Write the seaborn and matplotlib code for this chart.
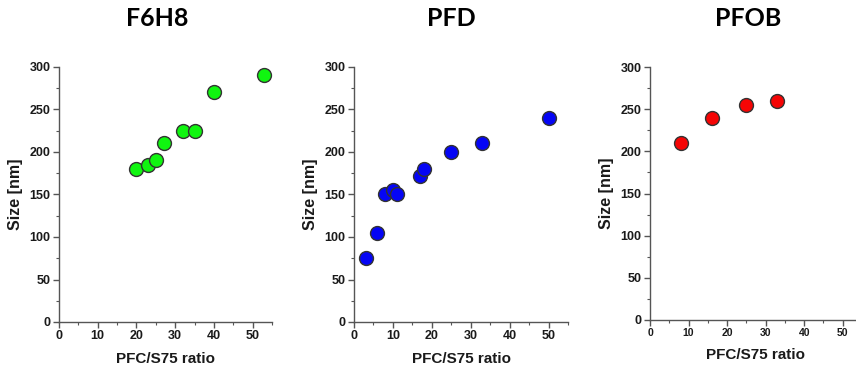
import matplotlib
matplotlib.use("Agg")

import matplotlib.pyplot as plt
import seaborn as sns
import pandas as pd
from matplotlib.ticker import MultipleLocator

# data
f6h8_ratio = [20, 23, 25, 27, 32, 35, 40, 53]
f6h8_size = [180, 185, 190, 210, 225, 225, 270, 290]

pfd_ratio = [3, 6, 8, 10, 11, 17, 18, 25, 33, 50]
pfd_size = [75, 105, 150, 155, 150, 172, 180, 200, 210, 240]

pfob_ratio = [8, 16, 25, 33]
pfob_size = [210, 240, 255, 260]

titles = ["F6H8", "PFD", "PFOB"]
colors = ["#10f510", "#0505f5", "#f50505"]

sns.set_style("ticks")
plt.rcParams["font.family"] = ["Liberation Sans", "DejaVu Sans"]
plt.rcParams["font.weight"] = "bold"
plt.rcParams["text.color"] = "#1a1a1a"
plt.rcParams["axes.labelcolor"] = "#1a1a1a"
plt.rcParams["xtick.labelcolor"] = "#1a1a1a"
plt.rcParams["ytick.labelcolor"] = "#1a1a1a"

fig = plt.figure(figsize=(8.56, 3.67), dpi=100)

# axes boxes in pixels: left, top, right, bottom
boxes = [(59, 67, 272, 322), (354, 67, 568, 322), (650, 67, 862, 320)]
title_x = [157, 451, 748]
W, H = 856, 367

datasets = [(f6h8_ratio, f6h8_size), (pfd_ratio, pfd_size), (pfob_ratio, pfob_size)]

for i, ((xs, ys), (l, t, r, b)) in enumerate(zip(datasets, boxes)):
    ax = fig.add_axes([l / W, 1 - b / H, (r - l) / W, (b - t) / H])
    df = pd.DataFrame({"ratio": xs, "size": ys})
    sns.scatterplot(data=df, x="ratio", y="size", ax=ax, color=colors[i],
                    s=100, edgecolor="#333333", linewidth=1, zorder=3)
    ax.set_xlim(0, 55)
    ax.set_ylim(0, 300)
    ax.xaxis.set_major_locator(MultipleLocator(10))
    ax.xaxis.set_minor_locator(MultipleLocator(5))
    ax.yaxis.set_major_locator(MultipleLocator(50))
    ax.yaxis.set_minor_locator(MultipleLocator(25))
    sns.despine(ax=ax)
    for sp in ["left", "bottom"]:
        ax.spines[sp].set_color("#555555")
        ax.spines[sp].set_linewidth(1)
    ax.tick_params(which="major", length=4, width=1, color="#555555", pad=2)
    ax.tick_params(which="minor", length=2.5, width=0.8, color="#555555")
    xsize = 7.5 if i == 2 else 9
    ax.tick_params(axis="x", labelsize=xsize)
    ax.tick_params(axis="y", labelsize=9)
    for lab in ax.get_xticklabels() + ax.get_yticklabels():
        lab.set_fontweight("bold")
    ax.set_xlabel("PFC/S75 ratio", fontsize=11, fontweight="bold", labelpad=7)
    ax.set_ylabel("Size [nm]", fontsize=11.5, fontweight="bold", labelpad=5)
    fig.text(title_x[i] / W, 1 - 19 / H, titles[i], ha="center", va="center",
             fontsize=18, fontweight="bold", color="black",
             family=["Lato", "DejaVu Sans"])

fig.savefig("out.png", dpi=100)
plt.close(fig)
